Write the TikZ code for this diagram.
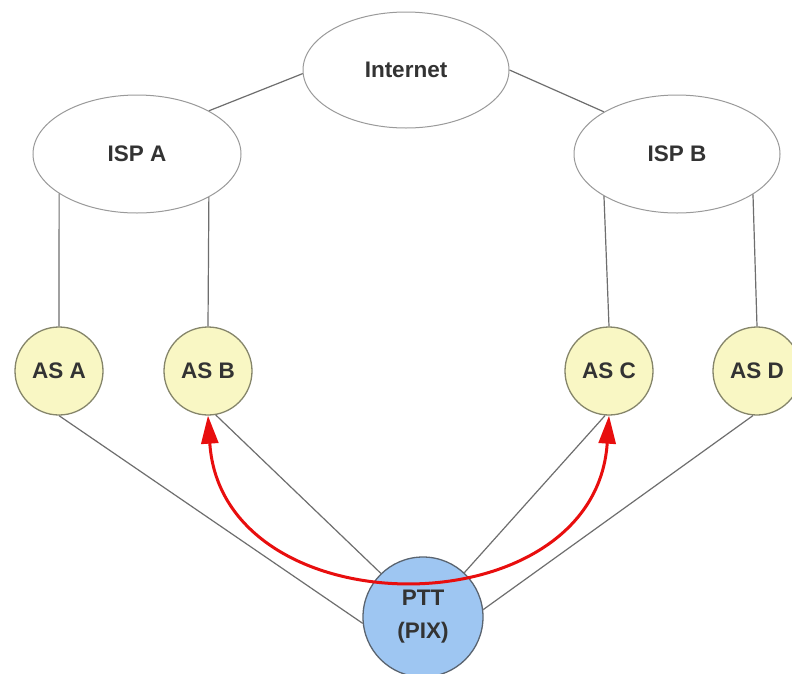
\documentclass[tikz,border=0pt]{standalone}
\usepackage{fontspec}
\setmainfont{Liberation Sans}
\usetikzlibrary{shapes.geometric,arrows.meta}
\definecolor{txt}{HTML}{333333}
\definecolor{asfill}{HTML}{F9F7C4}
\definecolor{asedge}{HTML}{85856A}
\definecolor{pixfill}{HTML}{9EC6F2}
\definecolor{pixedge}{HTML}{5A6470}
\definecolor{linkc}{HTML}{6E6E6E}
\definecolor{ellc}{HTML}{9A9A9A}
\definecolor{redc}{HTML}{E80E0E}
\tikzset{
  lbl/.style={font=\fontsize{22.5}{33}\selectfont\bfseries, text=txt, align=center},
  cloud/.style={lbl, ellipse, draw=ellc, line width=1pt, fill=white, inner sep=0pt},
  asnode/.style={lbl, circle, draw=asedge, line width=1.3pt, fill=asfill, minimum size=88pt, inner sep=0pt},
  pixnode/.style={lbl, circle, draw=pixedge, line width=1.3pt, fill=pixfill, minimum size=120pt, inner sep=0pt},
  link/.style={draw=linkc, line width=1.2pt},
  peer/.style={draw=redc, line width=3pt, {Triangle[length=28pt,width=17pt]}-{Triangle[length=28pt,width=17pt]}}
}
\begin{document}
\begin{tikzpicture}[x=1pt,y=-1pt]
\useasboundingbox (0,0) rectangle (792,673);
\fill[white] (0,0) rectangle (792,673);
\node[cloud, minimum width=206pt, minimum height=116pt] (inet) at (406,70) {Internet};
\node[cloud, minimum width=208pt, minimum height=118pt] (ispa) at (137,154) {ISP A};
\node[cloud, minimum width=206pt, minimum height=118pt] (ispb) at (677,154) {ISP B};
\node[asnode] (asa) at (59,371) {AS A};
\node[asnode] (asb) at (208,371) {AS B};
\node[asnode] (asc) at (609,371) {AS C};
\node[asnode] (asd) at (757,371) {AS D};
\node[pixnode] (ptt) at (423,617) {PTT\\(PIX)};
\draw[link] (inet.182) -- (ispa.31);
\draw[link] (inet.east) -- (ispb.150);
\draw[link] (ispa.207) -- (asa.north);
\draw[link] (ispa.-31) -- (asb.north);
\draw[link] (ispb.210) -- (asc.north);
\draw[link] (ispb.-28) -- (asd.north);
\draw[link] (asa.south) -- (ptt.186);
\draw[link] (asb.-80) -- (ptt.134);
\draw[link] (asc.-95) -- (ptt.47);
\draw[link] (asd.-95) -- (ptt.7);
\draw[peer] (asb.south) .. controls (222,631) and (595,631) .. (asc.south);
\end{tikzpicture}
\end{document}
